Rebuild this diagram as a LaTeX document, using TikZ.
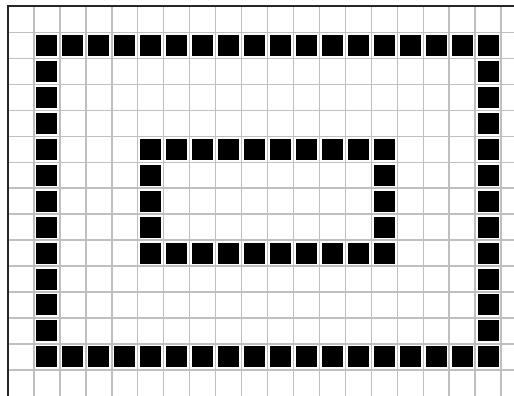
\documentclass[tikz,border=0pt]{standalone}
\begin{document}
\begin{tikzpicture}[x=1pt,y=-1pt,
  gridline/.style={draw=black!25,line width=1.4pt},
  frameline/.style={draw=black!85,line width=2pt},
  cellbox/.style={fill=black}]
\useasboundingbox (0,0) rectangle (514,396);
\fill[white] (0,0) rectangle (514,396);
\def\s{25.95}
\def\ox{8}
\def\oy{6.5}
% grid
\foreach \i in {1,...,19} \draw[gridline] ({\ox+\i*\s},\oy) -- ({\ox+\i*\s},396);
\foreach \j in {1,...,14} \draw[gridline] (\ox,{\oy+\j*\s}) -- (514,{\oy+\j*\s});
\draw[frameline] (\ox,396) -- (\ox,\oy) -- (514,\oy);
% outer ring: cols 1..18, rows 1..13
\foreach \c in {1,...,18} {
  \fill[cellbox] ({\ox+\c*\s+2.5},{\oy+1*\s+2.5}) rectangle ++(21,21);
  \fill[cellbox] ({\ox+\c*\s+2.5},{\oy+13*\s+2.5}) rectangle ++(21,21);
}
\foreach \r in {2,...,12} {
  \fill[cellbox] ({\ox+1*\s+2.5},{\oy+\r*\s+2.5}) rectangle ++(21,21);
  \fill[cellbox] ({\ox+18*\s+2.5},{\oy+\r*\s+2.5}) rectangle ++(21,21);
}
% inner ring: cols 5..14, rows 5..9
\foreach \c in {5,...,14} {
  \fill[cellbox] ({\ox+\c*\s+2.5},{\oy+5*\s+2.5}) rectangle ++(21,21);
  \fill[cellbox] ({\ox+\c*\s+2.5},{\oy+9*\s+2.5}) rectangle ++(21,21);
}
\foreach \r in {6,...,8} {
  \fill[cellbox] ({\ox+5*\s+2.5},{\oy+\r*\s+2.5}) rectangle ++(21,21);
  \fill[cellbox] ({\ox+14*\s+2.5},{\oy+\r*\s+2.5}) rectangle ++(21,21);
}
\end{tikzpicture}
\end{document}
